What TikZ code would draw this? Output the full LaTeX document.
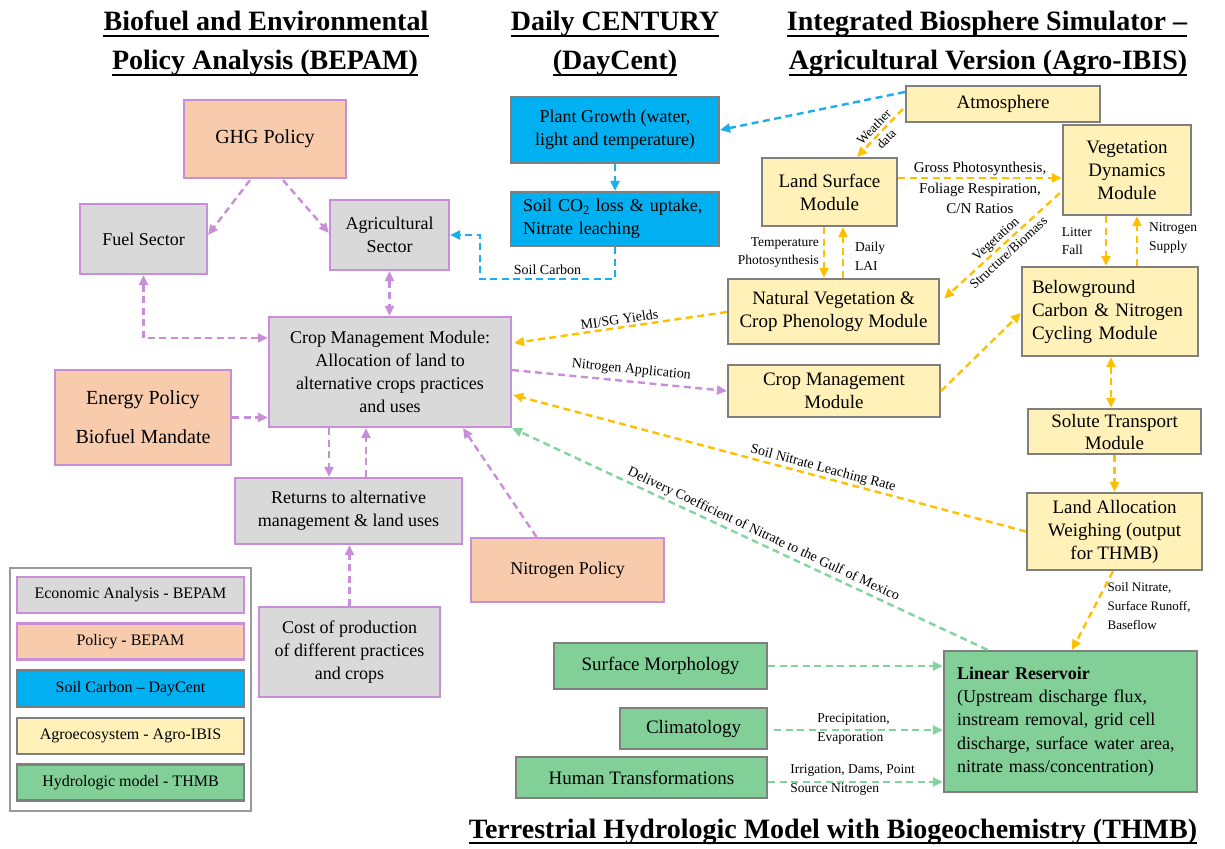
\documentclass[tikz,border=0pt]{standalone}
\usepackage{fontspec}
\setmainfont{Liberation Serif}
\usetikzlibrary{arrows.meta,calc}
\definecolor{purp}{HTML}{C98ED8}
\definecolor{peach}{HTML}{F8CBAD}
\definecolor{grayfill}{HTML}{D9D9D9}
\definecolor{bluefill}{HTML}{00B0F0}
\definecolor{yelfill}{HTML}{FFF1B8}
\definecolor{grnfill}{HTML}{82D098}
\definecolor{bordergray}{HTML}{7F7F7F}
\definecolor{yarrow}{HTML}{FFC000}
\definecolor{garrow}{HTML}{82D49C}
\definecolor{barrow}{HTML}{1AAEEA}
\definecolor{legframe}{HTML}{9A9A9A}
\newcommand{\fsz}[2]{\fontsize{#1}{#2}\selectfont}
\begin{document}
\begin{tikzpicture}[x=1pt,y=-1pt, >={Triangle[length=10pt,width=9pt]},
 box/.style={draw, line width=2.2pt, align=center, inner sep=2pt},
 econ/.style={box, draw=purp, fill=grayfill, font=\fsz{18}{23}},
 pol/.style={box, draw=purp, fill=peach, font=\fsz{20}{25}},
 dc/.style={box, draw=bordergray, fill=bluefill, font=\fsz{18}{23}},
 agro/.style={box, draw=bordergray, fill=yelfill, font=\fsz{19}{23}},
 hyd/.style={box, draw=bordergray, fill=grnfill, font=\fsz{19}{23}},
 legitem/.style={box, minimum width=227, minimum height=36, font=\fsz{16}{19}},
 conn/.style={line width=2.4pt, dash pattern=on 7pt off 4.5pt},
 parr/.style={conn, draw=purp},
 yarr/.style={conn, draw=yarrow},
 garr/.style={conn, draw=garrow},
 barr/.style={conn, draw=barrow},
 lbl/.style={font=\fsz{14}{17}, inner sep=1pt, text=black},
 slbl/.style={font=\fsz{13.5}{18.5}, inner sep=1pt, text=black},
 head/.style={font=\bfseries\fsz{28}{30}, inner sep=0pt, anchor=base},
 uline/.style={line width=2pt}]
\useasboundingbox (0,0) rectangle (1225,848);

% headings
\node[head] (h1a) at (266,31) {Biofuel and Environmental};
\node[head] (h1b) at (265,70) {Policy Analysis (BEPAM)};
\node[head] (h2a) at (615,31) {Daily CENTURY};
\node[head] (h2b) at (615,70) {(DayCent)};
\node[head] (h3a) at (987,31) {Integrated Biosphere Simulator –};
\node[head] (h3b) at (988,70) {Agricultural Version (Agro-IBIS)};
\node[head] (h4) at (833,838) {Terrestrial Hydrologic Model with Biogeochemistry (THMB)};
\foreach \h in {h1a,h1b,h2a,h2b,h3a,h3b,h4}
  \draw[uline] ([yshift=-5pt]\h.base west) -- ([yshift=-5pt]\h.base east);

% BEPAM boxes
\node[pol, minimum width=162, minimum height=78] (ghg) at (265,139) {GHG Policy};
\node[econ, minimum width=127, minimum height=70] (fuel) at (143.5,239) {Fuel Sector};
\node[econ, minimum width=119, minimum height=70] (agri) at (389.5,235) {Agricultural\\Sector};
\node[econ, minimum width=242, minimum height=110] (cmm) at (390,372) {Crop Management Module:\\Allocation of land to\\alternative crops practices\\and uses};
\node[pol, minimum width=176, minimum height=95] (energy) at (143,417.5) {Energy Policy\\[14pt]Biofuel Mandate};
\node[econ, minimum width=227, minimum height=66] (returns) at (348.5,511) {Returns to alternative\\management \& land uses};
\node[econ, minimum width=181, minimum height=90] (cost) at (349.5,652) {Cost of production\\of different practices\\and crops};
\node[pol, font=\fsz{18}{22}, minimum width=193, minimum height=64] (npol) at (567.5,570) {Nitrogen Policy};

% DayCent boxes
\node[dc, minimum width=208, minimum height=66] (plant) at (615,130) {Plant Growth (water,\\light and temperature)};
\node[dc, minimum width=208, minimum height=54, align=left, text width=184] (soil) at (615,219) {Soil CO\textsubscript{2} loss \& uptake,\\Nitrate leaching};

% Agro-IBIS boxes
\node[agro, minimum width=194, minimum height=36] (atm) at (1003,104) {Atmosphere};
\node[agro, minimum width=135, minimum height=68] (lsm) at (829.5,192) {Land Surface\\Module};
\node[agro, minimum width=128, minimum height=90] (vdm) at (1127,170) {Vegetation\\Dynamics\\Module};
\node[agro, minimum width=211, minimum height=65] (nvc) at (833.5,311.5) {Natural Vegetation \&\\Crop Phenology Module};
\node[agro, minimum width=176, minimum height=89, align=left, text width=156] (bcn) at (1110,311.5) {Belowground\\Carbon \& Nitrogen\\Cycling Module};
\node[agro, minimum width=212, minimum height=52] (cmy) at (834,391) {Crop Management\\Module};
\node[agro, minimum width=173, minimum height=45, font=\fsz{19}{22}] (sol) at (1114.5,431.5) {Solute Transport\\Module};
\node[agro, minimum width=175, minimum height=77] (lal) at (1114.5,531.5) {Land Allocation\\Weighing (output\\for THMB)};

% THMB boxes
\node[hyd, font=\fsz{18}{23.2}, minimum width=253, minimum height=141, align=left, text width=227] (lres) at (1070.5,721.5) {\textbf{Linear Reservoir}\\(Upstream discharge flux,\\instream removal, grid cell\\discharge, surface water area,\\nitrate mass/concentration)};
\node[hyd, minimum width=213, minimum height=46] (smor) at (660.5,666) {Surface Morphology};
\node[hyd, minimum width=147, minimum height=41] (clim) at (693.5,728.5) {Climatology};
\node[hyd, minimum width=251, minimum height=41] (hum) at (641.5,777.5) {Human Transformations};

% legend
\node[draw=legframe, line width=2pt, minimum width=241, minimum height=243] (legend) at (130.5,689.5) {};
\node[legitem, draw=purp, fill=grayfill] (leg1) at (130.5,595) {Economic Analysis - BEPAM};
\node[legitem, draw=purp, fill=peach] (leg2) at (130.5,641.5) {Policy - BEPAM};
\node[legitem, draw=bordergray, fill=bluefill] (leg3) at (130.5,688.5) {Soil Carbon – DayCent};
\node[legitem, draw=bordergray, fill=yelfill] (leg4) at (130.5,736) {Agroecosystem - Agro-IBIS};
\node[legitem, draw=bordergray, fill=grnfill] (leg5) at (130.5,782.5) {Hydrologic model - THMB};

% purple connectors
\draw[parr,->] ($(ghg.south)+(-15,1)$) -- ($(fuel.east)+(0,-4)$);
\draw[parr,->] ($(ghg.south)+(18,1)$) -- ($(agri.west)+(0,-2)$);
\draw[parr,<->] (fuel.south) |- ($(cmm.west)+(0,-34)$);
\draw[parr,<->] (agri.south) -- (agri.south |- cmm.north);
\draw[parr,->] (energy.east) -- (energy.east -| cmm.west);
\coordinate (c6) at ($(cmm.south)+(-61,0)$);
\draw[parr,->] (c6) -- (c6 |- returns.north);
\coordinate (c7) at ($(returns.north)+(17.5,0)$);
\draw[parr,->] (c7) -- (c7 |- cmm.south);
\draw[parr,->] (cost.north) -- (cost.north |- returns.south);
\draw[parr,->] ($(npol.north)+(-31,0)$) -- ($(cmm.south)+(73,0)$);
\draw[parr,->] ($(cmm.east)+(0,-2)$) -- (cmy.west)
  node[lbl, pos=0.55, sloped, above=3pt] {Nitrogen Application};

% blue connectors
\draw[barr,->] ($(atm.west)+(0,-12)$) -- (plant.east);
\draw[barr,->] (plant.south) -- (soil.north);
\draw[barr,->] (soil.south) |- ($(agri.east)+(30,44)$) node[lbl, pos=0.75, above=2pt] {Soil Carbon}
  |- (agri.east);

% yellow connectors
\draw[yarr,->] ($(atm.west)+(-2,5)$) -- ($(lsm.north)+(27.5,0)$)
  node[midway, sloped, align=center, font=\fsz{13}{17}, inner sep=0pt] {Weather\\data};
\coordinate (c13) at ($(lsm.east)+(0,-14)$);
\draw[yarr,->] (c13) -- (c13 -| vdm.west)
  node[midway, anchor=center, yshift=-10pt, align=center, font=\fsz{15}{20.5}, inner sep=0pt] {Gross Photosynthesis,\\Foliage Respiration,\\C/N Ratios};
\draw[yarr,->] ($(vdm.west)+(-2,23)$) -- ($(nvc.east)+(4,-13)$)
  node[midway, sloped, align=center, font=\fsz{13.5}{19}, inner sep=0pt] {Vegetation\\Structure/Biomass};
\coordinate (c15) at ($(lsm.south)+(-5.5,0)$);
\draw[yarr,->] (c15) -- (c15 |- nvc.north)
  node[slbl, midway, left=3pt, align=right] {Temperature\\Photosynthesis};
\coordinate (c16) at ($(nvc.north)+(9.5,0)$);
\draw[yarr,->] (c16) -- (c16 |- lsm.south)
  node[slbl, midway, right=10pt, align=left, yshift=-4pt] {Daily\\LAI};
\coordinate (c17) at ($(vdm.south)+(-21,0)$);
\draw[yarr,->] (c17) -- (c17 |- bcn.north)
  node[slbl, midway, left=12pt, align=left] {Litter\\Fall};
\coordinate (c18) at ($(bcn.north)+(27,0)$);
\draw[yarr,->] (c18) -- (c18 |- vdm.south)
  node[slbl, midway, right=10pt, align=left, yshift=3pt] {Nitrogen\\Supply};
\draw[yarr,->] ($(nvc.west)+(0,0.5)$) -- ($(cmm.east)+(2,-29)$)
  node[lbl, midway, sloped, above=1pt] {MI/SG Yields};
\draw[yarr,->] (cmy.east) -- ($(bcn.west)+(0,1.5)$);
\coordinate (c21) at ($(bcn.south)+(1,0)$);
\draw[yarr,<->] (c21) -- (c21 |- sol.north);
\draw[yarr,->] (sol.south) -- (lal.north);
\draw[yarr,->] (lal.west) -- ($(cmm.east)+(1,23)$)
  node[lbl, pos=0.4, sloped, above=0pt] {Soil Nitrate Leaching Rate};
\draw[yarr,->] ($(lal.south)+(-1.5,0)$) -- ($(lres.north)+(1.5,0)$);
\node[slbl, anchor=north west, align=left, font=\fsz{13}{19}] (l24) at ($(lal.south)+(-8,10)$) {Soil Nitrate,\\Surface Runoff,\\Baseflow};

% green connectors
\draw[garr,->] ($(lres.north)+(-83,0)$) -- (cmm.south east)
  node[lbl, pos=0.48, sloped, above=1pt] {Delivery Coefficient of Nitrate to the Gulf of Mexico};
\draw[garr,->] (smor.east) -- (smor.east -| lres.west);
\coordinate (c27) at ($(clim.east)+(6,1.5)$);
\draw[garr,->] (c27) -- (c27 -| lres.west);
\node[slbl, anchor=west, align=left, font=\fsz{13.5}{19}] (l27) at ($(clim.east)+(48,0)$) {Precipitation,\\Evaporation};
\coordinate (c28) at ($(hum.east)+(0,4.5)$);
\draw[garr,->] (c28) -- (c28 -| lres.west);
\node[slbl, anchor=west, align=left, font=\fsz{13.5}{19}] (l28) at ($(hum.east)+(21,2)$) {Irrigation, Dams, Point\\Source Nitrogen};
\end{tikzpicture}
\end{document}
